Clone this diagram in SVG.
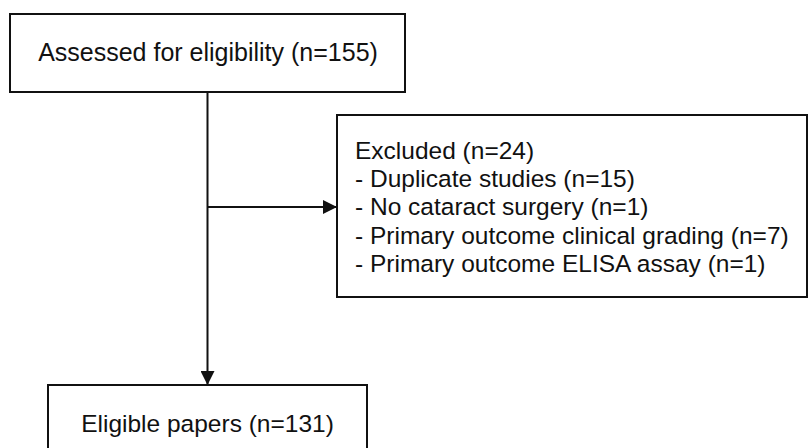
<svg xmlns="http://www.w3.org/2000/svg" width="810" height="448" viewBox="0 0 810 448">
<defs>
<style>
.box{fill:#fff;stroke:#111;stroke-width:2}
.t{font-family:"Liberation Sans",Arial,sans-serif;font-size:24.5px;fill:#111}
.big{font-size:25px}
.c{text-anchor:middle}
.ln{stroke:#111;stroke-width:2;fill:none}
</style>
<marker id="ah" markerWidth="14" markerHeight="14" refX="14" refY="7" orient="auto" markerUnits="userSpaceOnUse">
<path d="M0,0 L14,7 L0,14 Z" fill="#111"/>
</marker>
</defs>
<rect width="810" height="448" fill="#fff"/>
<g id="connectors">
<line class="ln" x1="207.5" y1="93" x2="207.5" y2="385" marker-end="url(#ah)"/>
<line class="ln" x1="207.5" y1="207" x2="337" y2="207" marker-end="url(#ah)"/>
</g>
<g id="assessed">
<rect class="box" x="10" y="14" width="395" height="78"/>
<text class="t big c" x="208" y="61">Assessed for eligibility (n=155)</text>
</g>
<g id="excluded">
<rect class="box" x="337" y="115" width="470" height="182"/>
<text class="t" x="355" y="159">Excluded (n=24)</text>
<text class="t" x="355" y="187">- Duplicate studies (n=15)</text>
<text class="t" x="355" y="215">- No cataract surgery (n=1)</text>
<text class="t" x="355" y="244">- Primary outcome clinical grading (n=7)</text>
<text class="t" x="355" y="272">- Primary outcome ELISA assay (n=1)</text>
</g>
<g id="eligible">
<rect class="box" x="48" y="385" width="319" height="80"/>
<text class="t c" x="207.5" y="432">Eligible papers (n=131)</text>
</g>
</svg>
